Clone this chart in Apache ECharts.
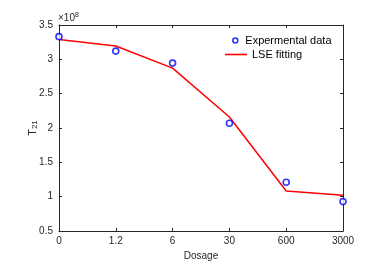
<!DOCTYPE html>
<html><head><meta charset="utf-8">
<script src="https://cdn.jsdelivr.net/npm/echarts@6/dist/echarts.min.js"></script>
<style>html,body{margin:0;padding:0;background:#fff}#c{width:380px;height:266px}</style>
</head><body><div id="c"></div>
<script>
const categories = ['0','1.2','6','30','600','3000'];
const experimental = [3.33, 3.12, 2.945, 2.07, 1.21, 0.928];
const lseFitting = [3.29, 3.195, 2.872, 2.16, 1.082, 1.022];
const yTicks = [0.5, 1, 1.5, 2, 2.5, 3, 3.5];

const chart = echarts.init(document.getElementById('c'));
const font = 'Liberation Sans, Arial, sans-serif';
const axisColor = '#262626';
chart.setOption({
  animation: false,
  grid: {left: 59, right: 37, top: 25, bottom: 35, containLabel: false},
  legend: [{
    left: 232, top: 35, itemGap: 4, padding: 0,
    itemWidth: 10, itemHeight: 5, itemStyle: {color: '#fff', borderColor: '#0000ff', borderWidth: 1.6},
    textStyle: {fontFamily: font, fontSize: 11, color: '#000'},
    data: [{name: 'Expermental data', icon: 'circle'}]
  }, {
    left: 225, top: 49, itemGap: 4, padding: 0,
    itemWidth: 22, itemHeight: 11,
    textStyle: {fontFamily: font, fontSize: 11, color: '#000'},
    data: [{name: 'LSE fitting', icon: 'path://M0,10 L22,10 L22,11.6 L0,11.6 Z'}]
  }],
  xAxis: [{
    type: 'category', data: categories, boundaryGap: false, position: 'bottom',
    name: 'Dosage', nameLocation: 'middle', nameGap: 20, nameMoveOverlap: false,
    nameTextStyle: {fontFamily: font, fontSize: 10, color: '#262626'},
    axisLine: {lineStyle: {color: axisColor, width: 1}},
    axisTick: {inside: true, length: 3, alignWithLabel: true, lineStyle: {color: axisColor}},
    axisLabel: {fontFamily: font, fontSize: 10, color: '#262626', margin: 5},
    splitLine: {show: false}
  }, {
    type: 'category', data: categories, boundaryGap: false, position: 'top',
    axisLine: {lineStyle: {color: axisColor, width: 1}},
    axisTick: {inside: true, length: 3, lineStyle: {color: axisColor}},
    axisLabel: {show: false}, splitLine: {show: false}
  }],
  yAxis: [{
    type: 'value', min: 0.5, max: 3.5, interval: 0.5, position: 'left',
    name: '{t|T}{s|21}', nameLocation: 'middle', nameGap: 20, nameRotate: 90, nameMoveOverlap: false,
    nameTextStyle: {rich: {
      t: {fontFamily: font, fontSize: 11, color: '#262626'},
      s: {fontFamily: font, fontSize: 8, color: '#262626', verticalAlign: 'bottom', padding: [4,0,0,0]}
    }},
    axisLine: {show: true, lineStyle: {color: axisColor, width: 1}},
    axisTick: {show: true, inside: true, length: 3, lineStyle: {color: axisColor}},
    axisLabel: {fontFamily: font, fontSize: 10, color: '#262626', margin: 6,
      formatter: v => yTicks.includes(v) ? String(v) : ''},
    splitLine: {show: false}
  }, {
    type: 'value', min: 0.5, max: 3.5, interval: 0.5, position: 'right',
    axisLine: {show: true, lineStyle: {color: axisColor, width: 1}},
    axisTick: {show: true, inside: true, length: 3, lineStyle: {color: axisColor}},
    axisLabel: {show: false}, splitLine: {show: false}
  }],
  graphic: [{
    type: 'text', left: 58, top: 12,
    style: {text: '×10{s|8}', fontFamily: font, fontSize: 10, fill: '#262626',
      rich: {s: {fontFamily: font, fontSize: 7, fill: '#262626', verticalAlign: 'top', padding: [0,0,6,0]}}}
  }],
  series: [{
    name: 'LSE fitting', type: 'line', data: lseFitting,
    symbol: 'none', lineStyle: {color: '#ff0000', width: 1.5}, itemStyle: {color: '#ff0000'}, z: 2
  }, {
    name: 'Expermental data', type: 'scatter', data: experimental,
    symbol: 'circle', symbolSize: 6,
    itemStyle: {color: '#fff', borderColor: '#0000ff', borderWidth: 1.6}, z: 3
  }]
});
</script></body></html>
